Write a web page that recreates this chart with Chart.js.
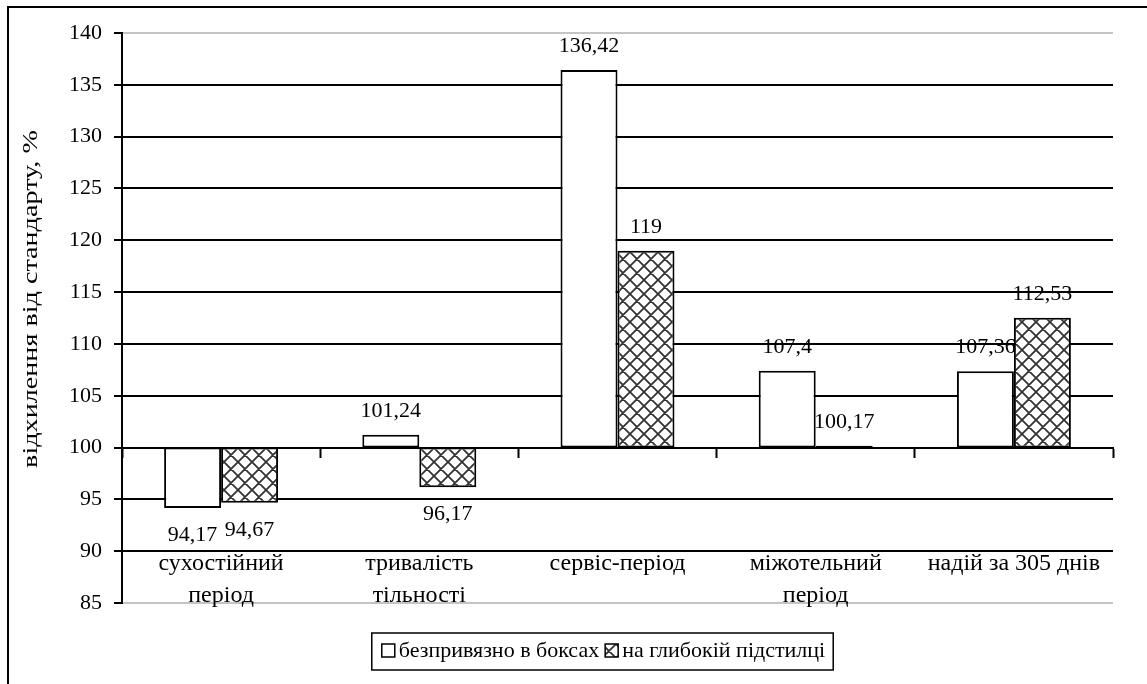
<!DOCTYPE html>
<html>
<head>
<meta charset="utf-8">
<script src="https://cdn.jsdelivr.net/npm/chart.js@4.4.1/dist/chart.umd.min.js"></script>
<style>
  html, body { margin: 0; padding: 0; background: #fff; }
  #wrap { width: 1147px; height: 684px; }
</style>
</head>
<body>
<div id="wrap"><canvas id="c" width="1147" height="684"></canvas></div>
<script>
// ---- data ----
const categories = [
  ['сухостійний', 'період'],
  ['тривалість', 'тільності'],
  'сервіс-період',
  ['міжотельний', 'період'],
  'надій за 305 днів'
];
const seriesNames = ['безпривязно в боксах', 'на глибокій підстилці'];
const boxValues = [94.17, 101.24, 136.42, 107.4, 107.36];
const litterValues = [94.67, 96.17, 119, 100.17, 112.53];
const baseValue = 100;
const yMin = 85, yMax = 140, yStep = 5;
const yTitle = 'відхилення від стандарту, %';

const FONT = '"Liberation Serif", "Times New Roman", serif';

function makeHatch() {
  const s = 14;
  const c = document.createElement('canvas');
  c.width = s; c.height = s;
  const g = c.getContext('2d');
  g.fillStyle = '#ffffff';
  g.fillRect(0, 0, s, s);
  g.strokeStyle = '#333333';
  g.lineWidth = 1.8;
  g.beginPath();
  for (const o of [-s, 0, s]) {
    g.moveTo(o, 0); g.lineTo(o + s, s);
    g.moveTo(o + s, 0); g.lineTo(o, s);
  }
  g.stroke();
  return g.createPattern(c, 'repeat');
}
const hatch = makeHatch();

const fmt = v => String(v).replace('.', ',');

const valueLabels = {
  id: 'valueLabels',
  afterDatasetsDraw(chart) {
    const ctx = chart.ctx;
    const yScale = chart.scales.y;
    ctx.save();
    ctx.font = '22px ' + FONT;
    ctx.fillStyle = '#000';
    ctx.textAlign = 'center';
    ctx.textBaseline = 'alphabetic';
    chart.data.datasets.forEach((ds, di) => {
      const meta = chart.getDatasetMeta(di);
      ds.rawValues.forEach((v, i) => {
        const el = meta.data[i];
        const py = yScale.getPixelForValue(v);
        const y = v >= baseValue ? py - 18 : py + 33;
        ctx.fillText(fmt(v), el.x, y);
      });
    });
    ctx.restore();
  }
};

const decorations = {
  id: 'decorations',
  afterDraw(chart) {
    const ctx = chart.ctx;
    ctx.save();
    // outer frame
    ctx.strokeStyle = '#000';
    ctx.lineWidth = 2;
    ctx.beginPath();
    ctx.moveTo(8, 720); ctx.lineTo(8, 7); ctx.lineTo(1200, 7);
    ctx.stroke();
    // y axis title
    ctx.save();
    ctx.translate(31, 299);
    ctx.rotate(-Math.PI / 2);
    ctx.scale(1.28, 1);
    ctx.font = '22px ' + FONT;
    ctx.fillStyle = '#000';
    ctx.textAlign = 'center';
    ctx.textBaseline = 'middle';
    ctx.fillText(yTitle, 0, 0);
    ctx.restore();
    // legend
    ctx.font = '22px ' + FONT;
    const ds = chart.data.datasets;
    const box = 13, gapT = 4, gapI = 6, padL = 10, padR = 8;
    const w0 = ctx.measureText(ds[0].label).width;
    const w1 = ctx.measureText(ds[1].label).width;
    const total = padL + box + gapT + w0 + gapI + box + gapT + w1 + padR;
    const cx = 602.5;
    const left = cx - total / 2;
    const top = 633, h = 37;
    ctx.lineWidth = 1.5;
    ctx.strokeStyle = '#000';
    ctx.strokeRect(left, top, total, h);
    let x = left + padL;
    const my = top + h / 2 - 1;
    ctx.textBaseline = 'middle';
    ctx.textAlign = 'left';
    [[ds[0], w0], [ds[1], w1]].forEach(([d, w]) => {
      ctx.fillStyle = d.backgroundColor;
      ctx.fillRect(x, my - box / 2, box, box);
      ctx.lineWidth = 1.5;
      ctx.strokeRect(x, my - box / 2, box, box);
      x += box + gapT;
      ctx.fillStyle = '#000';
      ctx.fillText(d.label, x, my + 1);
      x += w + gapI;
    });
    ctx.restore();
  }
};

const data = {
  labels: categories,
  datasets: [
    {
      label: seriesNames[0],
      rawValues: boxValues,
      data: boxValues.map(v => [baseValue, v]),
      backgroundColor: '#ffffff',
      borderColor: '#000',
      borderWidth: 2,
      borderSkipped: false
    },
    {
      label: seriesNames[1],
      rawValues: litterValues,
      data: litterValues.map(v => [baseValue, v]),
      backgroundColor: hatch,
      borderColor: '#000',
      borderWidth: 2,
      borderSkipped: false
    }
  ]
};

new Chart(document.getElementById('c'), {
  type: 'bar',
  data,
  options: {
    responsive: false,
    animation: false,
    devicePixelRatio: 1,
    layout: { padding: { left: 0, right: 34, top: 33, bottom: 81 } },
    datasets: { bar: { categoryPercentage: 0.575, barPercentage: 1 } },
    plugins: { legend: { display: false }, tooltip: { enabled: false } },
    scales: {
      x: {
        position: { y: baseValue },
        offset: true,
        afterFit(scale) { scale.paddingLeft = 0; scale.paddingRight = 0; },
        grid: {
          offset: true,
          drawOnChartArea: false,
          drawTicks: true,
          tickLength: 9,
          tickColor: '#000',
          tickWidth: 2,
          color: '#000'
        },
        border: { display: true, color: '#000', width: 2 },
        ticks: {
          color: '#000',
          font: { family: FONT, size: 24, lineHeight: 1.3 },
          padding: 92,
          maxRotation: 0,
          autoSkip: false
        }
      },
      y: {
        min: yMin,
        max: yMax,
        afterFit(scale) { scale.width = 122; },
        ticks: {
          stepSize: yStep,
          color: '#000',
          padding: 12,
          font: { family: FONT, size: 22 }
        },
        grid: {
          color: c => (c.tick && (c.tick.value === yMax || c.tick.value === yMin)) ? '#c4c4c4' : '#000',
          lineWidth: 2,
          tickLength: 8,
          tickColor: '#000',
          tickWidth: 2
        },
        border: { display: true, color: '#000', width: 2 }
      }
    }
  },
  plugins: [valueLabels, decorations]
});
</script>
</body>
</html>
